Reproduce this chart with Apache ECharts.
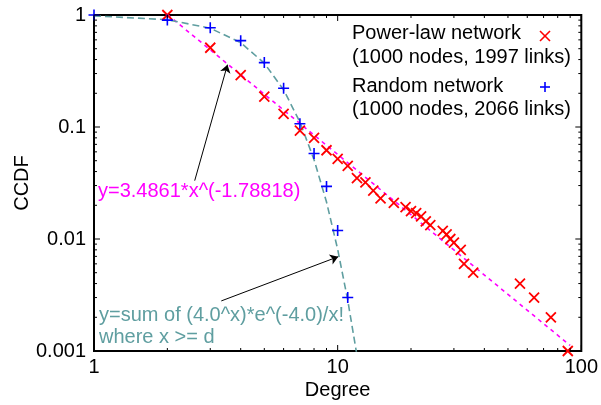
<!DOCTYPE html>
<html lang="en">
  <head>
    <meta charset="UTF-8" />
    <title>CCDF</title>
    <script src="https://cdn.jsdelivr.net/npm/echarts@6/dist/echarts.min.js"></script>
  </head>
  <body style="margin: 0; background: #fff">
    <div id="main" style="width: 601px; height: 405px"></div>
    <script type="text/javascript">
      // power-law network (red crosses)
      const powerX = [2, 3, 4, 5, 6, 7, 8, 9, 10, 11, 12, 13, 14, 15, 17, 19, 20, 21, 22, 23, 24, 27, 28, 29, 30, 32, 33, 36, 56, 64, 75, 88];
      const powerY = [1, 0.51, 0.29, 0.187, 0.131, 0.093, 0.08, 0.062, 0.052, 0.045, 0.035, 0.032, 0.027, 0.023, 0.021, 0.0193, 0.0177, 0.017, 0.0159, 0.0144, 0.0133, 0.0118, 0.011, 0.01, 0.0093, 0.008, 0.006, 0.005, 0.004, 0.003, 0.002, 0.001];
      // random network (blue plus)
      const randomX = [1, 2, 3, 4, 5, 6, 7, 8, 9, 10, 11];
      const randomY = [1, 0.9, 0.77, 0.59, 0.376, 0.222, 0.107, 0.058, 0.0295, 0.0119, 0.003];
      // fitted power law y=3.4861*x^(-1.78818), read at its ends
      const fitX = [2, 90];
      const fitY = [1.0094, 0.00112];
      // poisson ccdf, lambda 4
      const poisX = [1, 2, 3, 4, 5, 6, 7, 8, 9, 10, 11, 12];
      const poisY = [0.9817, 0.9084, 0.7619, 0.5665, 0.3712, 0.2149, 0.1107, 0.0511, 0.0214, 0.0081, 0.00284, 0.000915];
      // tick values
      const xMajor = [1, 10, 100];
      const xMinor = [2, 3, 4, 5, 6, 7, 8, 9, 20, 30, 40, 50, 60, 70, 80, 90];
      const yMajor = [0.001, 0.01, 0.1, 1];
      const yMinor = [0.002, 0.003, 0.004, 0.005, 0.006, 0.007, 0.008, 0.009, 0.02, 0.03, 0.04, 0.05, 0.06, 0.07, 0.08, 0.09, 0.2, 0.3, 0.4, 0.5, 0.6, 0.7, 0.8, 0.9];
      // annotation arrows, tail -> head in data coords
      const arrows = [
        [[2.59, 0.0332], [3.53, 0.36]],
        [[3.33, 0.0028], [10.05, 0.00695]],
      ];

      const FONT = "Liberation Sans, Arial, sans-serif";
      const TEAL = "#5f9ea0";
      const crossPath = "path://M0,0L10,10M10,0L0,10";
      const plusPath = "path://M5,0L5,10M0,5L10,5";

      const zip = (xs, ys) => xs.map((x, i) => [x, ys[i]]);

      // ticks on all four sides of the box
      function tickSeries(vals, horizontal, len) {
        return {
          type: "custom",
          silent: true,
          z: 5,
          data: vals.map((v) => (horizontal ? [v, 0.001] : [1, v])),
          renderItem: function (params, api) {
            const v = api.value(horizontal ? 0 : 1);
            const s = { stroke: "#000", lineWidth: 1 };
            if (horizontal) {
              const b = api.coord([v, 0.001]);
              const t = api.coord([v, 1]);
              return {
                type: "group",
                children: [
                  { type: "line", shape: { x1: b[0], y1: b[1], x2: b[0], y2: b[1] - len }, style: s },
                  { type: "line", shape: { x1: t[0], y1: t[1], x2: t[0], y2: t[1] + len }, style: s },
                ],
              };
            }
            const l = api.coord([1, v]);
            const r = api.coord([100, v]);
            return {
              type: "group",
              children: [
                { type: "line", shape: { x1: l[0], y1: l[1], x2: l[0] + len, y2: l[1] }, style: s },
                { type: "line", shape: { x1: r[0], y1: r[1], x2: r[0] - len, y2: r[1] }, style: s },
              ],
            };
          },
        };
      }

      function legendMark(cx, cy, color, plus) {
        const h = 5;
        const s = { stroke: color, lineWidth: 1.6 };
        const lines = plus
          ? [[cx - h, cy, cx + h, cy], [cx, cy - h, cx, cy + h]]
          : [[cx - h, cy - h, cx + h, cy + h], [cx + h, cy - h, cx - h, cy + h]];
        return lines.map((p) => ({ type: "line", shape: { x1: p[0], y1: p[1], x2: p[2], y2: p[3] }, style: s }));
      }

      function label(x, y, text, color) {
        return {
          type: "text",
          x: x,
          y: y,
          style: { text: text, fill: color, font: "20px " + FONT, verticalAlign: "middle", align: "left" },
        };
      }

      let options = {
        animation: false,
        backgroundColor: "#fff",
        textStyle: { fontFamily: FONT },
        grid: { left: 94, right: 18, top: 15, bottom: 53, show: true, borderColor: "#000", borderWidth: 2 },
        xAxis: {
          type: "log",
          logBase: 10,
          min: 1,
          max: 100,
          name: "Degree",
          nameLocation: "middle",
          nameGap: 29,
          nameMoveOverlap: false,
          nameTextStyle: { fontSize: 20, color: "#000", fontFamily: FONT },
          axisLine: { show: false },
          axisTick: { show: false },
          splitLine: { show: false },
          axisLabel: { fontSize: 20, color: "#000", margin: 6, fontFamily: FONT },
        },
        yAxis: {
          type: "log",
          logBase: 10,
          min: 0.001,
          max: 1,
          name: "CCDF",
          nameLocation: "middle",
          nameGap: 62,
          nameMoveOverlap: false,
          nameTextStyle: { fontSize: 20, color: "#000", fontFamily: FONT },
          axisLine: { show: false },
          axisTick: { show: false },
          splitLine: { show: false },
          axisLabel: { fontSize: 20, color: "#000", margin: 8, fontFamily: FONT, formatter: (v) => String(+v.toPrecision(3)) },
        },
        series: [
          tickSeries(xMajor, true, 6),
          tickSeries(xMinor, true, 3),
          tickSeries(yMajor, false, 6),
          tickSeries(yMinor, false, 3),
          {
            name: "fit",
            type: "line",
            data: zip(fitX, fitY),
            showSymbol: false,
            silent: true,
            lineStyle: { color: "#ff00ff", width: 1.6, type: [4, 4] },
            markLine: {
              silent: true,
              symbol: ["none", "arrow"],
              symbolSize: 8,
              label: { show: false },
              lineStyle: { color: "#000", width: 1, type: "solid" },
              data: arrows.map((a) => [{ coord: a[0] }, { coord: a[1] }]),
            },
          },
          {
            name: "poisson",
            type: "line",
            data: zip(poisX, poisY),
            showSymbol: false,
            silent: true,
            lineStyle: { color: TEAL, width: 1.6, type: [7, 4] },
          },
          {
            name: "Power-law network",
            type: "scatter",
            data: zip(powerX, powerY),
            symbol: crossPath,
            symbolSize: 10,
            itemStyle: { color: "#ff0000", borderColor: "#ff0000", borderWidth: 1.8, opacity: 1 },
            z: 4,
          },
          {
            name: "Random network",
            type: "scatter",
            data: zip(randomX, randomY),
            symbol: plusPath,
            symbolSize: 11,
            itemStyle: { color: "#0000ff", borderColor: "#0000ff", borderWidth: 1.6, opacity: 1 },
            z: 4,
          },
        ],
        graphic: [
          label(352, 33, "Power-law network", "#000"),
          label(352, 57, "(1000 nodes, 1997 links)", "#000"),
          label(352, 86, "Random network", "#000"),
          label(352, 109, "(1000 nodes, 2066 links)", "#000"),
          ...legendMark(545, 36, "#ff0000", false),
          ...legendMark(545, 87, "#0000ff", true),
          label(98, 191, "y=3.4861*x^(-1.78818)", "#ff00ff"),
          label(99, 315, "y=sum of (4.0^x)*e^(-4.0)/x!", TEAL),
          label(99, 337, "where x >= d", TEAL),
        ],
      };

      let myChart = echarts.init(document.getElementById("main"));
      myChart.setOption(options);
    </script>
  </body>
</html>
